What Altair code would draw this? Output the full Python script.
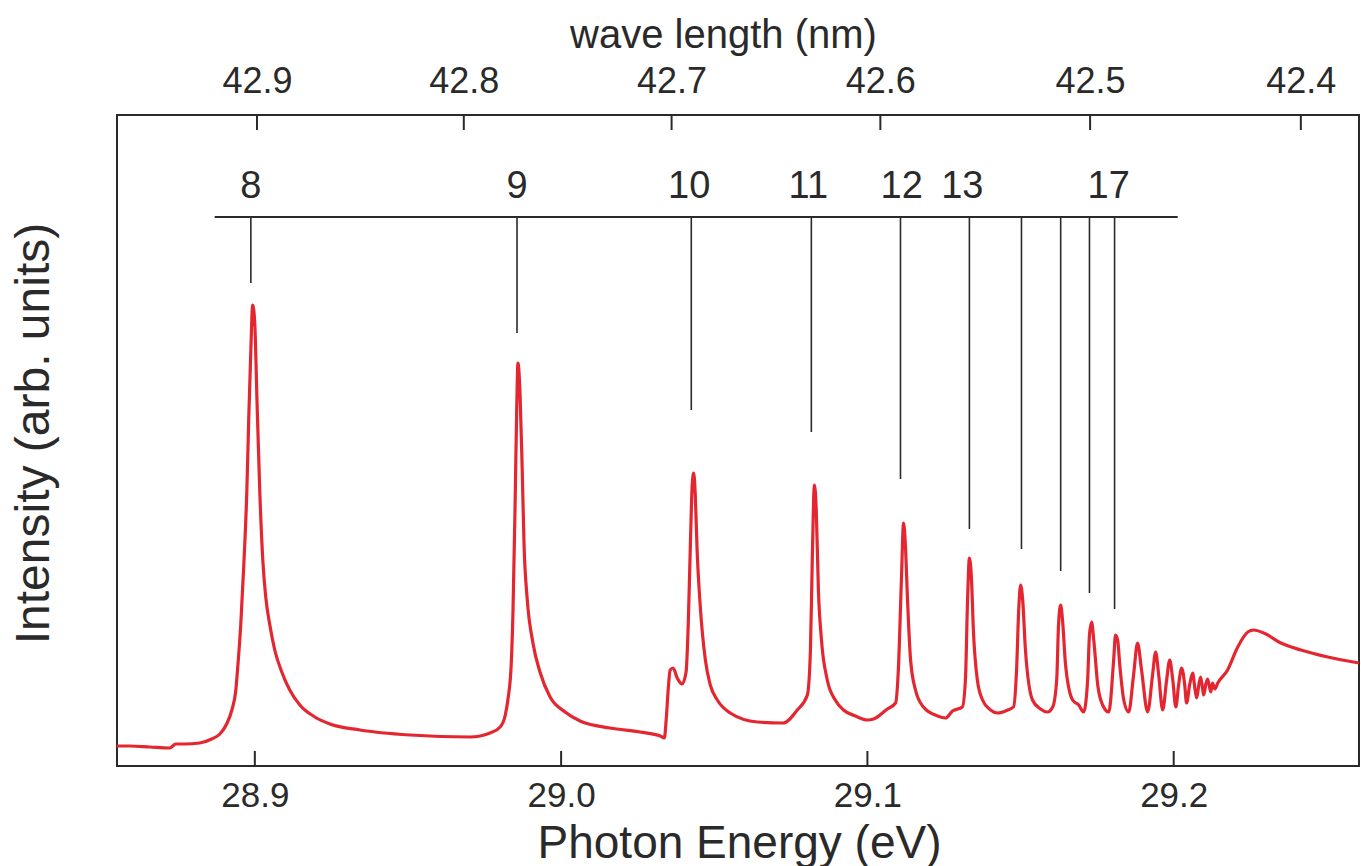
import altair as alt
import pandas as pd

# ---- spectrum (photon energy eV, intensity arb. units) ----
energy = [
    28.8549, 28.8592, 28.8657, 28.8722, 28.8742, 28.8771, 28.8820, 28.8859, 28.8886, 28.8908,
    28.8925, 28.8938, 28.8944, 28.8954, 28.8964, 28.8974, 28.8980, 28.8987, 28.8993, 28.9000,
    28.9007, 28.9016, 28.9026, 28.9036, 28.9049, 28.9065, 28.9088, 28.9114, 28.9147, 28.9196,
    28.9245, 28.9343, 28.9507, 28.9703, 28.9768, 28.9801, 28.9817, 28.9827, 28.9837, 28.9843,
    28.9850, 28.9855, 28.9859, 28.9866, 28.9873, 28.9879, 28.9889, 28.9908, 28.9931, 28.9964,
    29.0013, 29.0062, 29.0160, 29.0258, 29.0324, 29.0337, 29.0343, 29.0350, 29.0356, 29.0366,
    29.0379, 29.0395, 29.0408, 29.0415, 29.0422, 29.0428, 29.0433, 29.0438, 29.0444, 29.0454,
    29.0471, 29.0487, 29.0510, 29.0552, 29.0641, 29.0725, 29.0771, 29.0804, 29.0814, 29.0820,
    29.0827, 29.0833, 29.0840, 29.0850, 29.0869, 29.0895, 29.0922, 29.0961, 29.1000, 29.1020,
    29.1065, 29.1092, 29.1101, 29.1111, 29.1118, 29.1124, 29.1131, 29.1141, 29.1157, 29.1183,
    29.1229, 29.1255, 29.1278, 29.1310, 29.1320, 29.1327, 29.1333, 29.1340, 29.1346, 29.1359,
    29.1376, 29.1402, 29.1425, 29.1458, 29.1477, 29.1487, 29.1494, 29.1500, 29.1507, 29.1516,
    29.1539, 29.1565, 29.1588, 29.1605, 29.1618, 29.1624, 29.1631, 29.1637, 29.1647, 29.1670,
    29.1690, 29.1706, 29.1719, 29.1725, 29.1732, 29.1739, 29.1752, 29.1768, 29.1788, 29.1804,
    29.1810, 29.1817, 29.1824, 29.1837, 29.1853, 29.1869, 29.1882, 29.1895, 29.1915, 29.1931,
    29.1941, 29.1951, 29.1964, 29.1977, 29.1987, 29.1997, 29.2007, 29.2016, 29.2026, 29.2036,
    29.2042, 29.2052, 29.2062, 29.2069, 29.2075, 29.2082, 29.2088, 29.2095, 29.2098, 29.2105,
    29.2111, 29.2121, 29.2127, 29.2134, 29.2144, 29.2176, 29.2209, 29.2242, 29.2261, 29.2294,
    29.2350, 29.2415, 29.2503, 29.2605,
]
intensity = [
    4.0, 4.0, 3.8, 3.6, 4.4, 4.4, 4.6, 5.4, 6.4, 8.4,
    11.2, 15.2, 19.6, 28.2, 40.2, 55.2, 69.2, 83.2, 92.2, 88.2,
    73.2, 55.2, 41.2, 33.6, 28.2, 23.2, 18.8, 15.2, 12.2, 9.8,
    8.4, 7.2, 6.2, 5.8, 6.6, 7.8, 10.0, 13.6, 20.2, 31.2,
    53.2, 71.2, 80.6, 74.2, 59.2, 44.2, 33.6, 24.6, 18.8, 13.8,
    10.8, 9.0, 7.6, 6.8, 6.0, 5.6, 9.2, 15.6, 19.2, 19.6,
    17.6, 16.4, 18.8, 28.2, 44.2, 56.2, 58.6, 54.2, 43.2, 32.2,
    21.2, 16.2, 13.2, 10.6, 8.8, 8.6, 11.2, 14.2, 23.2, 41.2,
    56.2, 51.2, 35.2, 25.2, 17.2, 13.2, 11.2, 10.0, 9.2, 9.4,
    11.4, 12.6, 19.2, 37.2, 48.6, 44.2, 33.2, 21.2, 15.2, 11.8,
    10.0, 9.6, 11.0, 11.8, 17.2, 33.2, 41.6, 37.2, 27.2, 17.2,
    13.2, 11.2, 10.6, 11.2, 11.8, 19.2, 31.2, 36.2, 33.2, 23.2,
    13.2, 11.4, 10.8, 11.8, 17.2, 28.2, 32.2, 29.2, 20.2, 13.2,
    12.2, 10.8, 17.2, 26.2, 28.8, 25.2, 16.2, 12.2, 10.8, 21.2,
    26.2, 25.2, 20.2, 13.2, 10.8, 18.2, 24.6, 19.2, 10.8, 18.2,
    22.8, 18.2, 11.2, 17.2, 21.2, 17.2, 11.8, 16.2, 19.6, 16.2,
    12.6, 16.2, 18.6, 15.6, 13.6, 16.2, 17.8, 15.2, 14.2, 16.4,
    17.4, 14.8, 16.6, 15.4, 16.6, 19.2, 23.8, 26.8, 27.2, 26.6,
    24.6, 23.2, 21.8, 20.6,
]

# ---- Rydberg series markers ----
level_n = [8, 9, 10, 11, 12, 13, 14, 15, 16, 17]
level_energy = [28.8987, 28.9856, 29.0425, 29.0817, 29.1108, 29.1333, 29.1503, 29.1631, 29.1725, 29.1807]
level_end = [96.6, 86.6, 71.2, 66.8, 57.4, 47.4, 43.4, 39.0, 34.6, 31.4]
bar_level = 109.8
bar_start, bar_end = 28.8869, 29.2013

label_text = ["8", "9", "10", "11", "12", "13", "17"]
label_energy = [28.8987, 28.9856, 29.0418, 29.0807, 29.1112, 29.1310, 29.1788]
label_level = 115.8

# ---- axes ----
energy_ticks = [28.9, 29.0, 29.1, 29.2]
wavelength_ticks = [42.9, 42.8, 42.7, 42.6, 42.5, 42.4]
HC = 1239.84  # eV*nm
wavelength_energy = [HC / w for w in wavelength_ticks]

XDOM = [28.855, 29.2605]
YDOM = [0, 130.2]
W, H = 1242, 651
FONT = "Liberation Sans"
INK = "#2a2a2a"
RED = "#e3262f"

spec = pd.DataFrame({"E": energy, "I": intensity})
levels = pd.DataFrame({"n": level_n, "E": level_energy, "top": [bar_level] * len(level_n), "end": level_end})
bar = pd.DataFrame({"E": [bar_start], "E2": [bar_end], "y": [bar_level]})
labels = pd.DataFrame({"t": label_text, "E": label_energy, "y": [label_level] * len(label_text)})
bticks = pd.DataFrame({"E": energy_ticks})
tticks = pd.DataFrame({"E": wavelength_energy})

xs = alt.Scale(domain=XDOM, nice=False, zero=False)
ys = alt.Scale(domain=YDOM, nice=False, zero=True)

x_bottom = alt.X(
    "E:Q", scale=xs,
    axis=alt.Axis(
        title="Photon Energy (eV)", values=energy_ticks, format=".1f",
        ticks=False, tickSize=0, domain=False, grid=False,
        labelFontSize=35, labelPadding=12, labelColor=INK, labelFont=FONT,
        titleFontSize=46, titleFont=FONT, titleColor=INK, titleFontWeight="normal",
        titleBaseline="alphabetic", titleY=91, titleX=622,
    ),
)
y_main = alt.Y(
    "I:Q", scale=ys,
    axis=alt.Axis(
        title="Intensity (arb. units)", labels=False, ticks=False, domain=False, grid=False,
        titleFontSize=48, titleFont=FONT, titleColor=INK, titleFontWeight="normal",
        titlePadding=59, titleY=318,
    ),
)

curve = alt.Chart(spec).mark_line(color=RED, strokeWidth=3.2, interpolate="monotone").encode(
    x=x_bottom, y=y_main
)

lev = alt.Chart(levels).mark_rule(color=INK, strokeWidth=1.6).encode(
    x=alt.X("E:Q", scale=xs), y=alt.Y("top:Q", scale=ys), y2="end:Q"
)

hbar = alt.Chart(bar).mark_rule(color=INK, strokeWidth=2).encode(
    x=alt.X("E:Q", scale=xs), x2="E2:Q", y=alt.Y("y:Q", scale=ys)
)

lab = alt.Chart(labels).mark_text(
    font=FONT, fontSize=38, color=INK, baseline="middle", align="center"
).encode(x=alt.X("E:Q", scale=xs), y=alt.Y("y:Q", scale=ys), text="t:N")

bt = alt.Chart(bticks).mark_rule(color=INK, strokeWidth=2).encode(
    x=alt.X("E:Q", scale=xs), y=alt.value(H), y2=alt.value(H - 15)
)

main = alt.layer(curve, lev, hbar, lab, bt)

tt = alt.Chart(tticks).mark_rule(color=INK, strokeWidth=2).encode(
    x=alt.X(
        "E:Q", scale=alt.Scale(domain=XDOM, nice=False, zero=False),
        axis=alt.Axis(
            orient="top", title="wave length (nm)", values=wavelength_energy,
            labelExpr="format(1239.84 / datum.value, '.1f')",
            ticks=False, tickSize=0, domain=False, grid=False,
            labelFontSize=36, labelPadding=15, labelColor=INK, labelFont=FONT,
            titleFontSize=40, titleFont=FONT, titleColor=INK, titleFontWeight="normal",
            titlePadding=8, titleX=606,
        ),
    ),
    y=alt.value(0), y2=alt.value(15),
)

chart = (
    alt.layer(main, tt)
    .resolve_scale(x="independent")
    .properties(
        width=W, height=H,
        autosize=alt.AutoSizeParams(type="none"),
        padding={"left": 117, "top": 115, "right": 2, "bottom": 100},
        background="white",
    )
    .configure_view(stroke=INK, strokeWidth=2)
)

chart.save("out.html", embed_options={"renderer": "svg", "actions": False})
